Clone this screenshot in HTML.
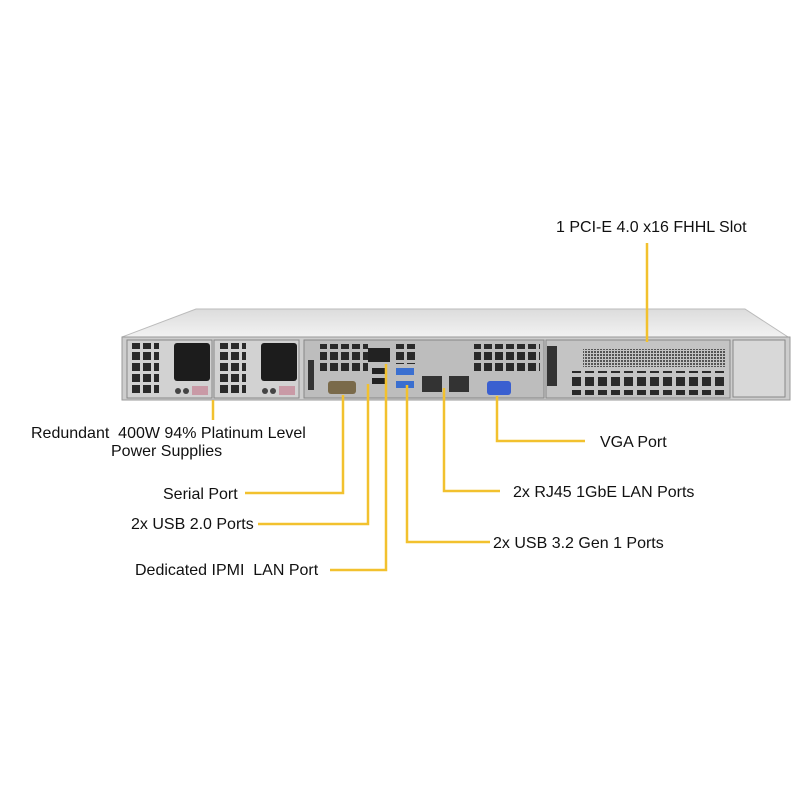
<!DOCTYPE html>
<html><head><meta charset="utf-8"><style>
body{margin:0;background:#fff;width:800px;height:800px;overflow:hidden;font-family:"Liberation Sans",Arial,sans-serif;}
.t{position:absolute;font-size:16px;color:#111;white-space:nowrap;line-height:18px}
svg{position:absolute;left:0;top:0}
</style></head><body>
<svg width="800" height="800" viewBox="0 0 800 800">
<defs>
<pattern id="g1" x="0" y="0" width="11" height="11" patternUnits="userSpaceOnUse"><rect width="8" height="8" fill="#2a2a2a"/></pattern>
<pattern id="g2" x="0" y="0" width="3" height="3" patternUnits="userSpaceOnUse"><rect width="2" height="2" fill="#555"/></pattern>
<pattern id="g3" x="0" y="0" width="13" height="13" patternUnits="userSpaceOnUse"><rect width="9" height="9" fill="#2a2a2a"/></pattern>
<linearGradient id="top" x1="0" y1="0" x2="0" y2="1"><stop offset="0" stop-color="#dcdcdc"/><stop offset="1" stop-color="#f2f2f2"/></linearGradient>
</defs>
<polygon points="196,309 745,309 788,337 122,337" fill="url(#top)" stroke="#bbb"/>
<rect x="122" y="337" width="668" height="63" fill="#cdcdcd" stroke="#999"/>
<rect x="127" y="340" width="85" height="58" fill="#d2d2d2" stroke="#888"/>
<rect x="131" y="343" width="28" height="50" fill="url(#g1)"/>
<rect x="174" y="343" width="36" height="38" rx="3" fill="#1c1c1c"/>
<circle cx="178" cy="391" r="3" fill="#444"/><circle cx="186" cy="391" r="3" fill="#444"/>
<rect x="192" y="386" width="16" height="9" fill="#c99aa6"/>
<rect x="214" y="340" width="85" height="58" fill="#d2d2d2" stroke="#888"/>
<rect x="218" y="343" width="28" height="50" fill="url(#g1)"/>
<rect x="261" y="343" width="36" height="38" rx="3" fill="#1c1c1c"/>
<circle cx="265" cy="391" r="3" fill="#444"/><circle cx="273" cy="391" r="3" fill="#444"/>
<rect x="279" y="386" width="16" height="9" fill="#c99aa6"/>
<rect x="304" y="340" width="240" height="58" fill="#bdbdbd" stroke="#888"/>
<rect x="320" y="344" width="48" height="30" fill="url(#g1)"/>
<rect x="308" y="360" width="6" height="30" fill="#333"/>
<rect x="368" y="348" width="22" height="14" fill="#222"/>
<rect x="372" y="368" width="14" height="6" fill="#222"/>
<rect x="372" y="378" width="14" height="6" fill="#222"/>
<rect x="396" y="368" width="18" height="7" fill="#3a6fd0"/>
<rect x="396" y="381" width="18" height="7" fill="#3a6fd0"/>
<rect x="394" y="344" width="24" height="20" fill="url(#g1)"/>
<rect x="422" y="376" width="20" height="16" fill="#333"/>
<rect x="449" y="376" width="20" height="16" fill="#333"/>
<rect x="474" y="344" width="66" height="28" fill="url(#g1)"/>
<rect x="328" y="381" width="28" height="13" rx="3" fill="#7a6a4a"/>
<rect x="487" y="381" width="24" height="14" rx="3" fill="#3a5fd0"/>
<rect x="546" y="340" width="184" height="58" fill="#c4c4c4" stroke="#888"/>
<rect x="583" y="349" width="143" height="18" fill="url(#g2)"/>
<rect x="568" y="371" width="160" height="24" fill="url(#g3)"/>
<rect x="547" y="346" width="10" height="40" fill="#333"/>
<rect x="733" y="340" width="52" height="57" fill="#d8d8d8" stroke="#888"/>
<g stroke="#f2c12e" stroke-width="2.5" fill="none">
<path d="M647 243 V342"/>
<path d="M213 400 V420"/>
<path d="M245 493 H343 V395"/>
<path d="M258 524 H368 V384"/>
<path d="M330 570 H386 V364"/>
<path d="M407 385 V542 H490"/>
<path d="M444 388 V491 H500"/>
<path d="M497 396 V441 H585"/>
</g>
</svg>
<div class="t" style="left:556px;top:219px">1 PCI-E 4.0 x16 FHHL Slot</div>
<div class="t" style="left:31px;top:425px">Redundant&nbsp; 400W 94% Platinum Level</div>
<div class="t" style="left:111px;top:443px">Power Supplies</div>
<div class="t" style="left:163px;top:486px">Serial Port</div>
<div class="t" style="left:131px;top:516px">2x USB 2.0 Ports</div>
<div class="t" style="left:135px;top:562px">Dedicated IPMI&nbsp; LAN Port</div>
<div class="t" style="left:600px;top:434px">VGA Port</div>
<div class="t" style="left:513px;top:484px">2x RJ45 1GbE LAN Ports</div>
<div class="t" style="left:493px;top:535px">2x USB 3.2 Gen 1 Ports</div>
</body></html>
